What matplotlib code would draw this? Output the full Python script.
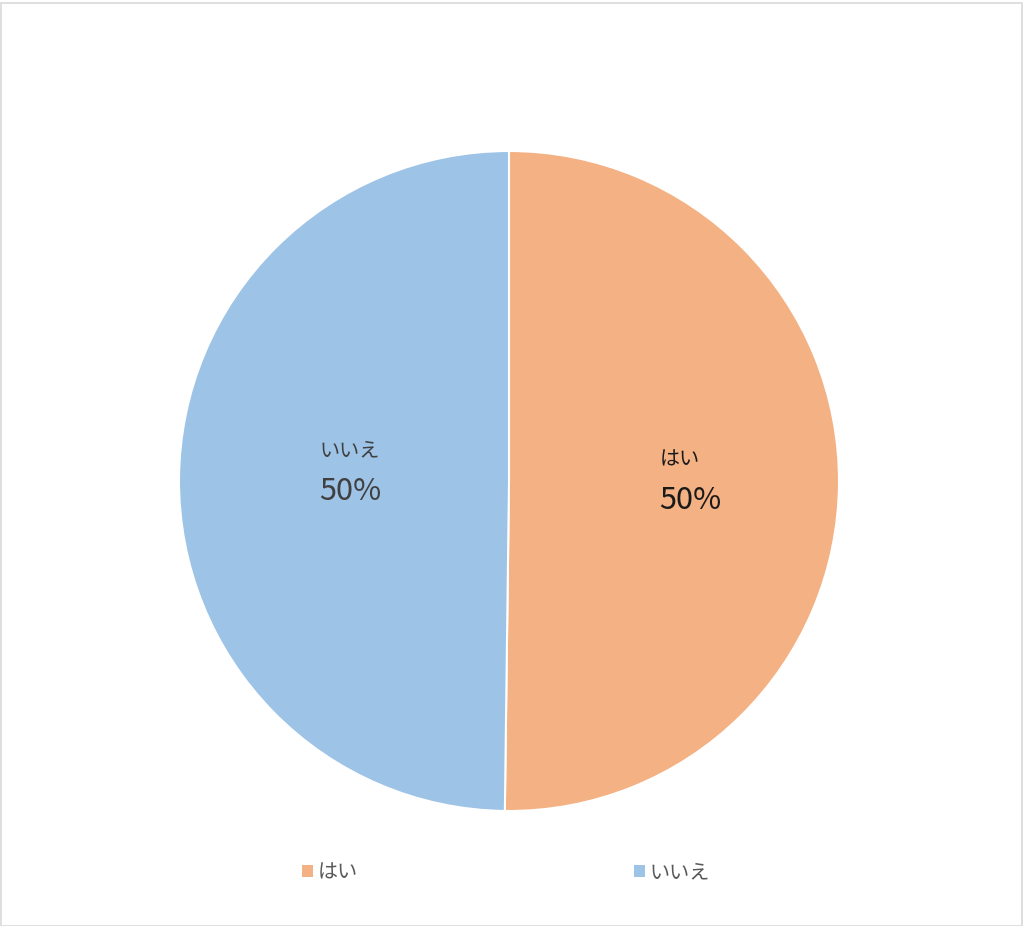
import matplotlib
matplotlib.use("Agg")
import matplotlib.pyplot as plt
from matplotlib.patches import Patch, Rectangle

plt.rcParams['font.family'] = ['Noto Sans CJK JP', 'DejaVu Sans']

categories = ["はい", "いいえ"]
values = [50.2, 49.8]
pct_labels = ["50%", "50%"]
colors = ["#F4B183", "#9DC3E6"]
label_colors = ["#1a1a1a", "#404040"]

W, H = 1024, 926
fig = plt.figure(figsize=(W / 100, H / 100), dpi=100)
fig.patches.append(Rectangle((0.5 / W, 0.5 / H), 1 - 3 / W, 1 - 3 / H, transform=fig.transFigure,
                             fill=False, edgecolor="#d9d9d9", linewidth=1.2))

cx, cy, r = 509, 481, 330
ax = fig.add_axes([(cx - r) / W, (H - cy - r) / H, 2 * r / W, 2 * r / H])
wedges, _ = ax.pie(values, colors=colors, startangle=90, counterclock=False,
                   wedgeprops=dict(edgecolor="white", linewidth=1.5))
ax.set_xlim(-1, 1)
ax.set_ylim(-1, 1)
ax.set_aspect("equal")
ax.axis("off")

# data labels
name_pos = [(0.518, 0.064), (-0.482, 0.090)]
pct_pos = [(0.548, -0.058), (-0.482, -0.033)]
for i in range(len(categories)):
    ax.text(*name_pos[i], categories[i], ha="center", va="center", fontsize=14.5,
            color=label_colors[i])
    ax.text(*pct_pos[i], pct_labels[i], ha="center", va="center", fontsize=22,
            color=label_colors[i])

handles = [Patch(facecolor=c, edgecolor="none") for c in colors]
leg = fig.legend(handles, categories, loc="center left", bbox_to_anchor=(284 / W, 1 - 873 / H),
                 ncol=2, frameon=False, fontsize=14.5, handlelength=0.55, handleheight=0.55,
                 handletextpad=0.2, columnspacing=13.75, labelcolor="#595959")

fig.savefig("out.png", dpi=100, facecolor="white")
